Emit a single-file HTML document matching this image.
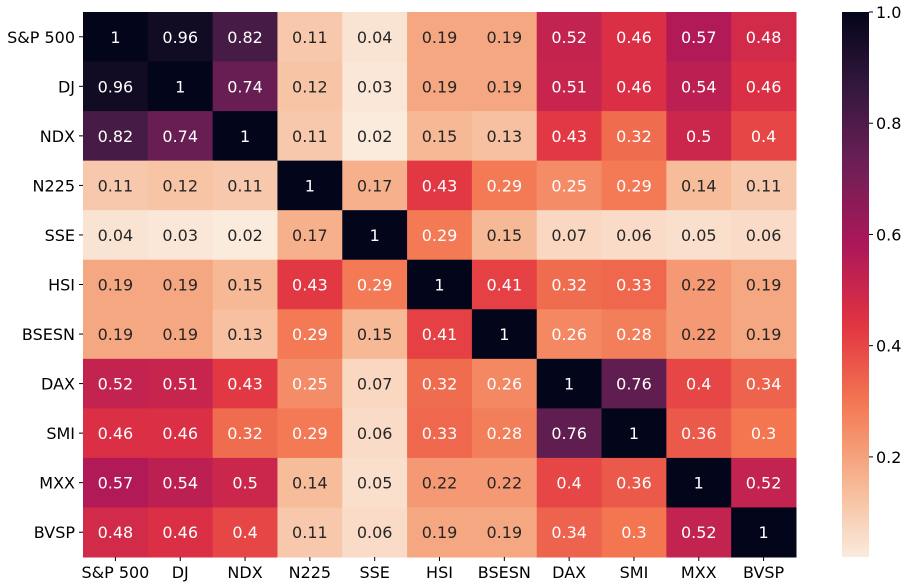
<!DOCTYPE html>
<html><head><meta charset="utf-8"><style>
body{margin:0;background:#fff;}
svg{display:block;font-family:"DejaVu Sans","Liberation Sans",sans-serif;}
</style></head><body>
<svg id="chart" width="907" height="585"></svg>
<script>
const labels=["S&P 500","DJ","NDX","N225","SSE","HSI","BSESN","DAX","SMI","MXX","BVSP"];
const rowSP=[1,0.96,0.82,0.11,0.04,0.19,0.19,0.52,0.46,0.57,0.48];
const rowDJ=[0.96,1,0.74,0.12,0.03,0.19,0.19,0.51,0.46,0.54,0.46];
const rowNDX=[0.82,0.74,1,0.11,0.02,0.15,0.13,0.43,0.32,0.5,0.4];
const rowN225=[0.11,0.12,0.11,1,0.17,0.43,0.29,0.25,0.29,0.14,0.11];
const rowSSE=[0.04,0.03,0.02,0.17,1,0.29,0.15,0.07,0.06,0.05,0.06];
const rowHSI=[0.19,0.19,0.15,0.43,0.29,1,0.41,0.32,0.33,0.22,0.19];
const rowBSESN=[0.19,0.19,0.13,0.29,0.15,0.41,1,0.26,0.28,0.22,0.19];
const rowDAX=[0.52,0.51,0.43,0.25,0.07,0.32,0.26,1,0.76,0.4,0.34];
const rowSMI=[0.46,0.46,0.32,0.29,0.06,0.33,0.28,0.76,1,0.36,0.3];
const rowMXX=[0.57,0.54,0.5,0.14,0.05,0.22,0.22,0.4,0.36,1,0.52];
const rowBVSP=[0.48,0.46,0.4,0.11,0.06,0.19,0.19,0.34,0.3,0.52,1];
const matrix=[rowSP,rowDJ,rowNDX,rowN225,rowSSE,rowHSI,rowBSESN,rowDAX,rowSMI,rowMXX,rowBVSP];
const cbTicks=[0.2,0.4,0.6,0.8,1.0];
const vmin=0.02,vmax=1;

const NS="http://www.w3.org/2000/svg";
const svg=document.getElementById("chart");
const L=83,R=796,T=12,B=557;
const n=labels.length, cw=(R-L)/n, ch=(B-T)/n;
const xPos=i=>L+i*cw, yPos=j=>T+j*ch;
const stops=[[0,[3,5,26]],[1/7,[53,25,62]],[2/7,[112,31,87]],[3/7,[173,23,89]],[4/7,[225,51,66]],[5/7,[243,118,81]],[6/7,[246,180,143]],[1,[250,235,221]]];
function rocket(t){t=Math.max(0,Math.min(1,t));for(let k=1;k<stops.length;k++){if(t<=stops[k][0]){const [a,ca]=stops[k-1],[b,cb]=stops[k];const f=(t-a)/(b-a);return ca.map((c,i)=>Math.round(c+(cb[i]-c)*f));}}return stops[stops.length-1][1];}
const color=v=>rocket(1-(v-vmin)/(vmax-vmin));
const rgb=c=>`rgb(${c[0]},${c[1]},${c[2]})`;
function el(tag,attrs,text){const e=document.createElementNS(NS,tag);for(const k in attrs)e.setAttribute(k,attrs[k]);if(text!==undefined)e.textContent=text;svg.appendChild(e);return e;}

matrix.forEach((row,j)=>row.forEach((v,i)=>{
  const c=color(v);
  const r=el("rect",{x:xPos(i),y:yPos(j),width:cw+0.5,height:ch+0.5,fill:rgb(c)});
  
  
  const t=el("text",{x:xPos(i)+cw/2,y:yPos(j)+ch/2+6,"text-anchor":"middle","font-size":"16",fill:v>0.235?"#ffffff":"#262626"},String(v));
  
  
}));
labels.forEach((lab,i)=>{
  el("line",{x1:xPos(i)+cw/2,x2:xPos(i)+cw/2,y1:B,y2:B+4,stroke:"#000"});
  const t=el("text",{x:xPos(i)+cw/2,y:B+21,"text-anchor":"middle","font-size":"16",fill:"#000"},lab);
  
  
  el("line",{x1:L-4,x2:L,y1:yPos(i)+ch/2,y2:yPos(i)+ch/2,stroke:"#000"});
  const u=el("text",{x:L-8,y:yPos(i)+ch/2+6,"text-anchor":"end","font-size":"16",fill:"#000"},lab);
  
  
});
const CL=842,CR=869;
const defs=el("defs",{});
const g=document.createElementNS(NS,"linearGradient");
g.setAttribute("id","cb");g.setAttribute("x1","0");g.setAttribute("y1","1");g.setAttribute("x2","0");g.setAttribute("y2","0");
for(let k=0;k<=40;k++){const s=document.createElementNS(NS,"stop");s.setAttribute("offset",k/40);s.setAttribute("stop-color",rgb(rocket(1-k/40)));g.appendChild(s);}
defs.appendChild(g);
const cb=el("rect",{x:CL,y:T,width:CR-CL,height:B-T,fill:"url(#cb)"});


const cy=v=>B-(v-vmin)/(vmax-vmin)*(B-T);
cbTicks.forEach(v=>{
  el("line",{x1:CR,x2:CR+4,y1:cy(v),y2:cy(v),stroke:"#000"});
  const t=el("text",{x:CR+7,y:cy(v)+6,"font-size":"16",fill:"#000"},v.toFixed(1));
  
  
});
</script>
</body></html>
